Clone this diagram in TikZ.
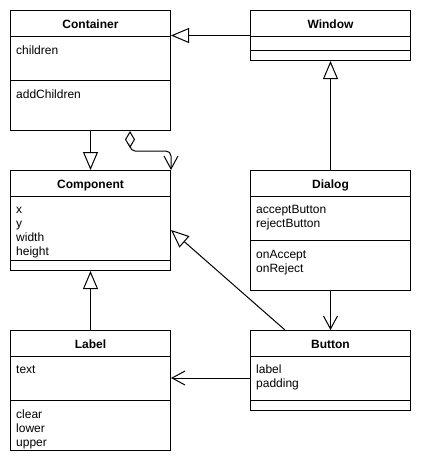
\documentclass[tikz,border=0pt]{standalone}
\usepackage{fontspec}
\setmainfont{Liberation Sans}
\usetikzlibrary{arrows.meta,calc}
\begin{document}
\begin{tikzpicture}[x=1pt,y=-1pt,
  cls/.style={draw, line width=1pt, rectangle, anchor=north west, inner sep=0pt, minimum width=160pt},
  hdr/.style={anchor=base, font=\bfseries\fontsize{12}{14}\selectfont, inner sep=0pt},
  txt/.style={anchor=base west, font=\fontsize{12}{14}\selectfont, inner sep=0pt},
  sep/.style={line width=1pt},
  conn/.style={line width=1pt},
  inh/.style={conn, -{Triangle[open, length=18pt, width=15pt]}},
  assoc/.style={conn, -{Straight Barb[length=13pt, width=14pt]}},
  agg/.style={conn, {Diamond[open, length=17pt, width=10pt]}-{Straight Barb[length=13pt, width=14pt]}, rounded corners=5pt}
]
\fill[white] (0,0) rectangle (421,464);
\useasboundingbox (0,0) rectangle (421,464);

% Container
\node[cls, minimum height=120pt] (container) at (10,10) {};
\draw[sep] ($(container.north west)+(0,26)$) -- ($(container.north east)+(0,26)$);
\draw[sep] ($(container.north west)+(0,70)$) -- ($(container.north east)+(0,70)$);
\node[hdr] (containerT) at ($(container.north)+(0,18)$) {Container};
\node[txt] (containerA1) at ($(container.north west)+(6,44)$) {children};
\node[txt] (containerM1) at ($(container.north west)+(6,88)$) {addChildren};

% Window
\node[cls, minimum height=50pt] (window) at (250,10) {};
\draw[sep] ($(window.north west)+(0,26)$) -- ($(window.north east)+(0,26)$);
\draw[sep] ($(window.north west)+(0,40)$) -- ($(window.north east)+(0,40)$);
\node[hdr] (windowT) at ($(window.north)+(0,18)$) {Window};

% Component
\node[cls, minimum height=100pt] (component) at (10,170) {};
\draw[sep] ($(component.north west)+(0,26)$) -- ($(component.north east)+(0,26)$);
\draw[sep] ($(component.north west)+(0,90)$) -- ($(component.north east)+(0,90)$);
\node[hdr] (componentT) at ($(component.north)+(0,18)$) {Component};
\node[txt] (componentA1) at ($(component.north west)+(6,43)$) {x};
\node[txt] (componentA2) at ($(component.north west)+(6,57)$) {y};
\node[txt] (componentA3) at ($(component.north west)+(6,71)$) {width};
\node[txt] (componentA4) at ($(component.north west)+(6,85)$) {height};

% Dialog
\node[cls, minimum height=120pt] (dialog) at (250,170) {};
\draw[sep] ($(dialog.north west)+(0,26)$) -- ($(dialog.north east)+(0,26)$);
\draw[sep] ($(dialog.north west)+(0,70)$) -- ($(dialog.north east)+(0,70)$);
\node[hdr] (dialogT) at ($(dialog.north)+(0,18)$) {Dialog};
\node[txt] (dialogA1) at ($(dialog.north west)+(6,43)$) {acceptButton};
\node[txt] (dialogA2) at ($(dialog.north west)+(6,57)$) {rejectButton};
\node[txt] (dialogM1) at ($(dialog.north west)+(6,88)$) {onAccept};
\node[txt] (dialogM2) at ($(dialog.north west)+(6,102)$) {onReject};

% Label
\node[cls, minimum height=120pt] (label) at (10,330) {};
\draw[sep] ($(label.north west)+(0,26)$) -- ($(label.north east)+(0,26)$);
\draw[sep] ($(label.north west)+(0,70)$) -- ($(label.north east)+(0,70)$);
\node[hdr] (labelT) at ($(label.north)+(0,18)$) {Label};
\node[txt] (labelA1) at ($(label.north west)+(6,43)$) {text};
\node[txt] (labelM1) at ($(label.north west)+(6,88)$) {clear};
\node[txt] (labelM2) at ($(label.north west)+(6,102)$) {lower};
\node[txt] (labelM3) at ($(label.north west)+(6,116)$) {upper};

% Button
\node[cls, minimum height=80pt] (button) at (250,330) {};
\draw[sep] ($(button.north west)+(0,26)$) -- ($(button.north east)+(0,26)$);
\draw[sep] ($(button.north west)+(0,70)$) -- ($(button.north east)+(0,70)$);
\node[hdr] (buttonT) at ($(button.north)+(0,18)$) {Button};
\node[txt] (buttonA1) at ($(button.north west)+(6,43)$) {label};
\node[txt] (buttonA2) at ($(button.north west)+(6,57)$) {padding};

% Connectors
\draw[inh] (window.west) -- (window.west -| container.east);
\draw[inh] (container.south) -- (component.north);
\draw[agg] ($(container.south west)+(120,0)$) -- ++(0,20) -| (component.north east);
\draw[inh] (dialog.north) -- (window.south);
\draw[assoc] (dialog.south) -- (button.north);
\draw[inh] ($(button.north west)+(35,0)$) -- ($(component.north east)+(0,60)$);
\draw[inh] (label.north) -- (component.south);
\draw[assoc] ($(button.north west)+(0,48)$) -- ($(label.north east)+(0,48)$);
\end{tikzpicture}
\end{document}
